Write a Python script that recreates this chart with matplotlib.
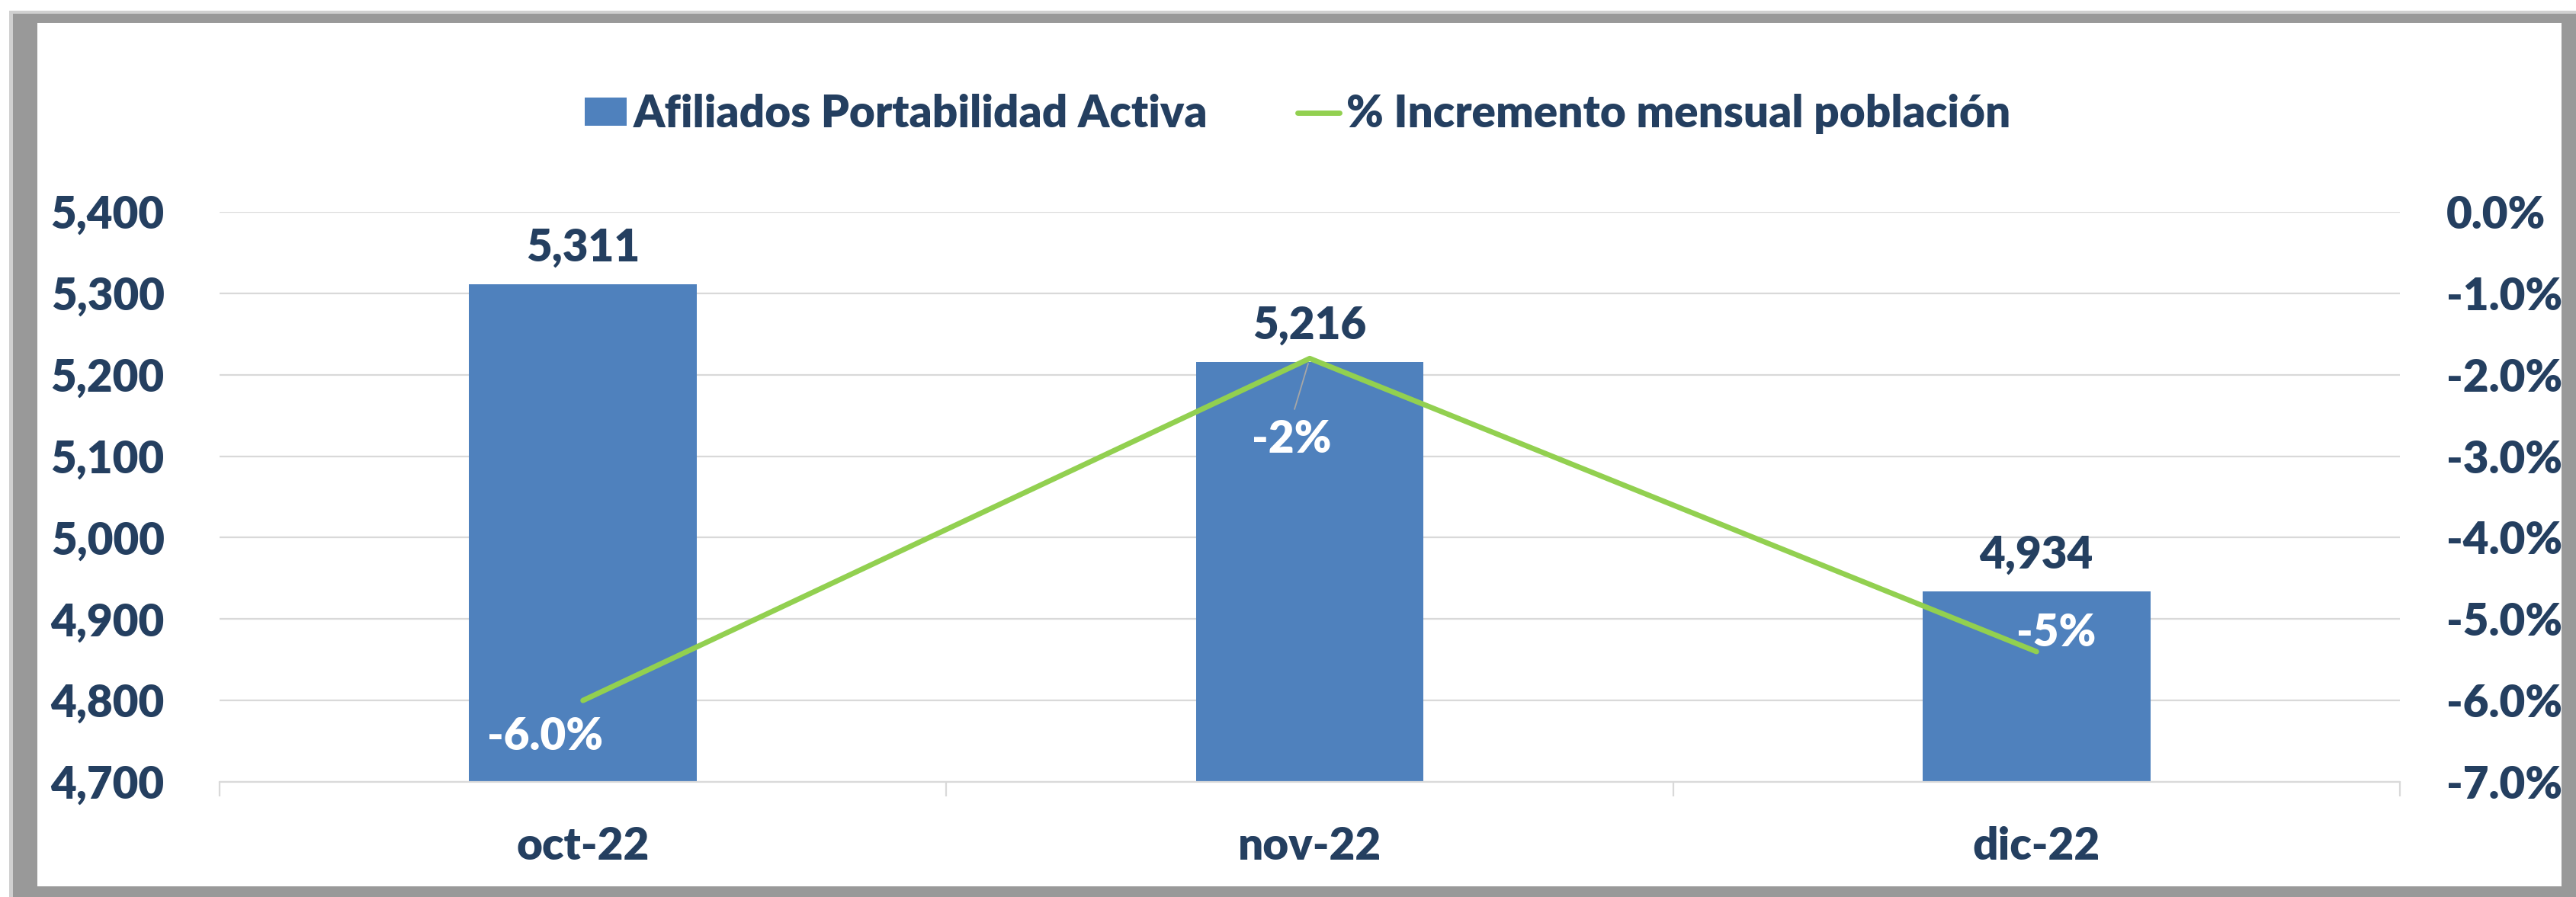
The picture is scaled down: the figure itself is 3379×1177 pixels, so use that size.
import matplotlib
matplotlib.use("Agg")
import matplotlib.pyplot as plt
from matplotlib.patches import Rectangle, Patch
from matplotlib.lines import Line2D
from matplotlib.ticker import FuncFormatter, FixedLocator

# --- data -------------------------------------------------------------
months = ["oct-22", "nov-22", "dic-22"]
afiliados = [5311, 5216, 4934]
incremento_pct = [-6.0, -1.8, -5.4]
incremento_fmt = ["{:.1f}%", "{:.0f}%", "{:.0f}%"]
bar_label = "Afiliados Portabilidad Activa"
line_label = "% Incremento mensual población"

# --- style ------------------------------------------------------------
W, H, DPI = 3379, 1177, 100
NAVY = "#243F60"
BLUE = "#4F81BD"
GREEN = "#92D050"
GRID = "#D9D9D9"
FS = 42

plt.rcParams["font.family"] = ["Lato", "DejaVu Sans"]
plt.rcParams["font.weight"] = "heavy"

fig = plt.figure(figsize=(W / DPI, H / DPI), dpi=DPI)


def frac_rect(x0, y0, x1, y1, **kw):
    # pixel box (top-down y) -> rectangle in figure fractions
    return Rectangle((x0 / W, 1 - y1 / H), (x1 - x0) / W, (y1 - y0) / H,
                     transform=fig.transFigure, **kw)


# chart frame: grey border with white inside
fig.patches.append(frac_rect(12, 14, W, H, facecolor="#D0D0D0", edgecolor="none", zorder=-3))
fig.patches.append(frac_rect(17, 18, W, H, facecolor="#999999", edgecolor="none", zorder=-2))
fig.patches.append(frac_rect(49, 30, 3360, 1163, facecolor="white", edgecolor="none", zorder=-1))

# plot area in pixels
L, R, T, B = 288, 3148, 278, 1026
ax = fig.add_axes([L / W, 1 - B / H, (R - L) / W, (B - T) / H])
ax.patch.set_visible(False)

x = list(range(len(months)))
ax.bar(x, afiliados, width=0.313, color=BLUE, zorder=2)
ax.set_xlim(-0.5, len(months) - 0.5)
ax.set_ylim(4700, 5400)
ax.set_yticks(range(4700, 5401, 100))
ax.yaxis.set_major_formatter(FuncFormatter(lambda v, p: f"{v:,.0f}"))
ax.grid(axis="y", color=GRID, lw=1.6, zorder=0)
ax.set_axisbelow(True)

ax.set_xticks(x)
ax.set_xticklabels(months)
ax.xaxis.set_minor_locator(FixedLocator([i - 0.5 for i in range(len(months) + 1)]))
ax.tick_params(axis="x", which="major", length=0, pad=42, labelsize=FS, labelcolor=NAVY)
ax.tick_params(axis="x", which="minor", length=14, width=1.6, color=GRID, direction="out")
ax.tick_params(axis="y", length=0, pad=52, labelsize=FS, labelcolor=NAVY)
for s in ["top", "left", "right"]:
    ax.spines[s].set_visible(False)
ax.spines["bottom"].set_color(GRID)
ax.spines["bottom"].set_linewidth(1.6)

for xi, v in zip(x, afiliados):
    ax.annotate(f"{v:,}", (xi, v), xytext=(0, 30), textcoords="offset pixels",
                ha="center", va="baseline", fontsize=FS, color=NAVY)

# secondary axis: monthly % change
ax2 = ax.twinx()
ax2.patch.set_visible(False)
ax2.plot(x, incremento_pct, color=GREEN, lw=5, solid_capstyle="round",
         solid_joinstyle="round", zorder=3)
ax2.set_ylim(-7, 0)
ax2.set_yticks(range(-7, 1))
ax2.yaxis.set_major_formatter(FuncFormatter(lambda v, p: f"{v:.1f}%"))
ax2.tick_params(axis="y", length=0, pad=44, labelsize=FS, labelcolor=NAVY)
for s in ["top", "left", "right", "bottom"]:
    ax2.spines[s].set_visible(False)

label_offsets = [(-50, -65), (-24, -124), (26, 7)]
for xi, v, fmt, off in zip(x, incremento_pct, incremento_fmt, label_offsets):
    kw = {}
    if xi == 1:
        kw["arrowprops"] = dict(arrowstyle="-", color="#A6A6A6", lw=1.3,
                                relpos=(0.5, 1.0), shrinkA=8, shrinkB=5)
    ax2.annotate(fmt.format(v), (xi, v), xytext=off, textcoords="offset pixels",
                 ha="center", va="baseline", fontsize=FS, color="white", **kw)

# legend
handles = [
    Patch(facecolor=BLUE, edgecolor="none", label=bar_label),
    Line2D([], [], color=GREEN, lw=5, solid_capstyle="round", label=line_label),
]
fig.legend(handles=handles, loc="center", bbox_to_anchor=(0.5037, 0.8726), ncol=2,
           frameon=False, labelcolor=NAVY, handlelength=0.95,
           handleheight=0.6, handletextpad=0.15, columnspacing=2.0,
           prop={"weight": "heavy", "size": FS})

fig.savefig("out.png", dpi=DPI)
